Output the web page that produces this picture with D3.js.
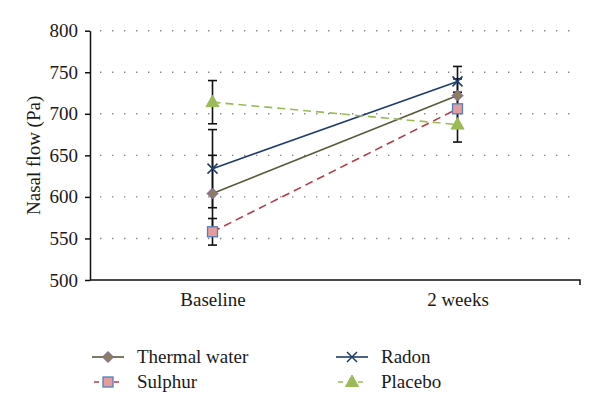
<!DOCTYPE html>
<html><head><meta charset="utf-8">
<script src="https://cdn.jsdelivr.net/npm/d3@7"></script>
<style>body{margin:0;background:#fff}svg{display:block}</style>
</head><body><svg id="c" width="600" height="416"></svg>
<script>
const categories = ["Baseline", "2 weeks"];
const seriesNames = ["Thermal water", "Sulphur", "Radon", "Placebo"];
const thermal = [604, 722];
const thermalErr = [46, 20];
const sulphur = [558, 706];
const sulphurErr = [16, 20];
const radon = [634, 739];
const radonErr = [47, 18];
const placebo = [714, 687];
const placeboErr = [26, 21];
const yTicks = [500, 550, 600, 650, 700, 750, 800];
const yTitle = "Nasal flow (Pa)";

const FONT = "'Liberation Serif', 'Times New Roman', Tinos, 'DejaVu Serif', serif";

const series = [
  {name: seriesNames[0], values: thermal, err: thermalErr, line: "#5a5a3c", dash: null, marker: "diamond", fill: "#8b7d62", stroke: "#8064a2"},
  {name: seriesNames[1], values: sulphur, err: sulphurErr, line: "#b23c4a", dash: "8,5", marker: "square", fill: "#e59c9c", stroke: "#4f81bd"},
  {name: seriesNames[2], values: radon, err: radonErr, line: "#1f3d6b", dash: null, marker: "x", fill: "none", stroke: "#1f3d6b"},
  {name: seriesNames[3], values: placebo, err: placeboErr, line: "#9bbb59", dash: "8,5", marker: "triangle", fill: "#9bbb59", stroke: "#9bbb59"}
];

const svg = d3.select("#c");
const L = 90, R = 580, T = 30.7, B = 280;
const x = d3.scalePoint().domain(categories).range([L, R]).padding(0.5);
const y = d3.scaleLinear().domain([500, 800]).range([B, T]);

function styleText(sel, size) {
  return sel.style("font-family", FONT).style("font-size", size + "px").style("fill", "#1a1a1a");
}

// gridlines
svg.append("g").selectAll("line").data(yTicks.filter(t => t > 500)).join("line")
  .attr("x1", L + 10).attr("x2", 574).attr("y1", d => y(d)).attr("y2", d => y(d))
  .attr("stroke", "#888").attr("stroke-width", 1.4).attr("stroke-dasharray", "1.4,10.6");

// y axis
const ya = svg.append("g").attr("transform", `translate(${L},0)`)
  .call(d3.axisLeft(y).tickValues(yTicks).tickSize(5).tickSizeOuter(0).tickPadding(7));
ya.attr("font-family", null).attr("font-size", null);
ya.select(".domain").attr("stroke", "#111").attr("stroke-width", 1.5);
ya.selectAll(".tick line").attr("stroke", "#111").attr("stroke-width", 1.5);
styleText(ya.selectAll("text"), 19);

// x axis
const xa = svg.append("g").attr("transform", `translate(0,${B})`)
  .call(d3.axisBottom(x).tickSize(0).tickPadding(13));
xa.attr("font-family", null).attr("font-size", null);
xa.select(".domain").attr("d", `M${L},0H${R}V5`).attr("stroke", "#111").attr("stroke-width", 1.5).attr("fill", "none");
styleText(xa.selectAll("text"), 19);

// y title
styleText(svg.append("text").attr("transform", `translate(40,${(T + B) / 2}) rotate(-90)`)
  .attr("text-anchor", "middle").text(yTitle), 19);

// error bars
const eb = svg.append("g");
series.forEach(s => {
  categories.forEach((c, i) => {
    const cx = x(c), v = s.values[i], e = s.err[i];
    eb.append("line").attr("x1", cx).attr("x2", cx).attr("y1", y(v - e)).attr("y2", y(v + e)).attr("stroke", "#111").attr("stroke-width", 1.6);
    [v - e, v + e].forEach(w => eb.append("line").attr("x1", cx - 4.5).attr("x2", cx + 4.5).attr("y1", y(w)).attr("y2", y(w)).attr("stroke", "#111").attr("stroke-width", 1.6));
  });
});

const lineGen = d3.line().x((d, i) => x(categories[i])).y(d => y(d));
series.forEach(s => {
  svg.append("path").datum(s.values).attr("d", lineGen).attr("fill", "none")
    .attr("stroke", s.line).attr("stroke-width", 1.6).attr("stroke-dasharray", s.dash);
});

function drawMarker(g, s, cx, cy) {
  if (s.marker === "diamond") {
    g.append("path").attr("d", `M${cx},${cy - 5.5}L${cx + 5.5},${cy}L${cx},${cy + 5.5}L${cx - 5.5},${cy}Z`)
      .attr("fill", s.fill).attr("stroke", s.stroke).attr("stroke-width", 1);
  } else if (s.marker === "square") {
    g.append("rect").attr("x", cx - 5).attr("y", cy - 5).attr("width", 10).attr("height", 10)
      .attr("fill", s.fill).attr("stroke", s.stroke).attr("stroke-width", 1.3);
  } else if (s.marker === "x") {
    g.append("path").attr("d", `M${cx - 5},${cy - 5}L${cx + 5},${cy + 5}M${cx - 5},${cy + 5}L${cx + 5},${cy - 5}`)
      .attr("stroke", s.stroke).attr("stroke-width", 1.5).attr("fill", "none");
  } else {
    g.append("path").attr("d", `M${cx},${cy - 7}L${cx + 6.5},${cy + 4.5}L${cx - 6.5},${cy + 4.5}Z`)
      .attr("fill", s.fill).attr("stroke", s.stroke).attr("stroke-width", 1);
  }
}
const mk = svg.append("g");
series.forEach(s => categories.forEach((c, i) => drawMarker(mk, s, x(c), y(s.values[i]))));

// legend
const legPos = [[92, 357], [92, 382], [336, 357], [336, 382]];
const lg = svg.append("g");
series.forEach((s, k) => {
  const [lx, ly] = legPos[k];
  lg.append("line").attr("x1", lx).attr("x2", lx + 32).attr("y1", ly).attr("y2", ly)
    .attr("stroke", s.line).attr("stroke-width", 1.6).attr("stroke-dasharray", s.dash ? "5,5" : null)
    .attr("stroke-dashoffset", s.dash ? -2 : null);
  drawMarker(lg, s, lx + 16, ly);
  styleText(lg.append("text").attr("x", lx + 45).attr("y", ly + 6), 19).text(s.name);
});
</script></body></html>
